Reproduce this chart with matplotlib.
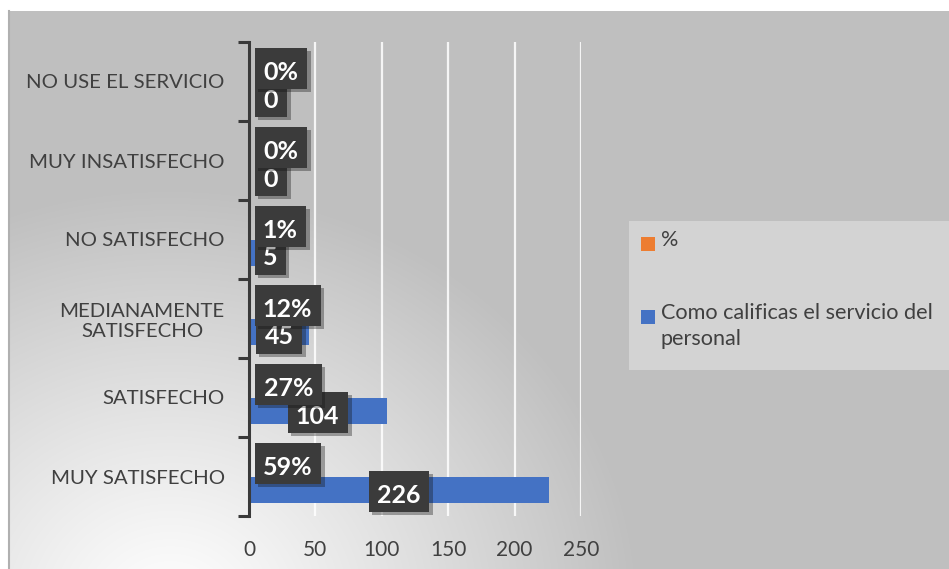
import numpy as np
import matplotlib
matplotlib.use('Agg')
import matplotlib.pyplot as plt
import matplotlib.patheffects as pe
from matplotlib.patches import Rectangle
from matplotlib.textpath import TextPath
from matplotlib.font_manager import FontProperties

categorias = ['MUY SATISFECHO', 'SATISFECHO', 'MEDIANAMENTE\nSATISFECHO',
              'NO SATISFECHO', 'MUY INSATISFECHO', 'NO USE EL SERVICIO']
cantidades = [226, 104, 45, 5, 0, 0]
porcentajes = [0.59, 0.27, 0.12, 0.01, 0.0, 0.0]
etiquetas_pct = ['59%', '27%', '12%', '1%', '0%', '0%']
xticks = [0, 50, 100, 150, 200, 250]
series = ['%', 'Como calificas el servicio del\npersonal']

AZUL = '#4472C4'
NARANJA = '#ED7D31'
TEXTO = '#404040'
plt.rcParams['font.family'] = ['Lato', 'DejaVu Sans']

W, H = 949, 569
fig = plt.figure(figsize=(W / 100, H / 100), dpi=100)

# fondo: gris con degradado radial blanco desde abajo a la izquierda
bg = fig.add_axes([0, 0, 1, 1], zorder=-5)
yy, xx = np.mgrid[0:H, 0:W]
d = np.hypot(xx - 170, (yy - 610) / 0.9)
t = np.clip(d / 470, 0, 1) ** 1.1
gris = 0.75 + (1 - 0.75) * (1 - t)
img = np.dstack([gris, gris, gris])
img[:11, :] = 1.0
img[:, :9] = 1.0
bg.imshow(img, aspect='auto', extent=(0, W, H, 0), interpolation='bilinear')
bg.plot([9.5, 9.5], [11, H], color='#b0b0b0', lw=1.5)
bg.set_xlim(0, W)
bg.set_ylim(H, 0)
bg.axis('off')

ax = fig.add_axes([249 / W, 1 - 516 / H, (581 - 249) / W, (516 - 42) / H])
ax.patch.set_alpha(0)

y = np.arange(len(categorias))
h = 0.33
ax.barh(y + h / 2, porcentajes, height=h, color=NARANJA, zorder=2)
ax.barh(y - h / 2, cantidades, height=h, color=AZUL, zorder=2)

ax.set_xlim(0, 250)
ax.set_ylim(-0.5, len(categorias) - 0.5)
ax.set_xticks(xticks)
ax.set_xticklabels([str(v) for v in xticks])
ax.set_yticks(y)
ax.set_yticklabels(categorias, multialignment='center')
ax.set_yticks(np.arange(-0.5, len(categorias)), minor=True)
ax.tick_params(axis='y', which='major', length=0, pad=17.5, labelsize=14.7, labelcolor=TEXTO)
ax.tick_params(axis='y', which='minor', length=8, width=2.2, color='#3a3a3a')
ax.tick_params(axis='x', length=0, pad=17, labelsize=15, labelcolor=TEXTO)
for s in ['top', 'right', 'bottom']:
    ax.spines[s].set_visible(False)
ax.spines['left'].set_color('#3a3a3a')
ax.spines['left'].set_linewidth(2.2)
for xv in xticks[1:]:
    ax.axvline(xv, color='white', lw=1.6, alpha=0.85, zorder=1)

# etiquetas de datos (cajas oscuras con sombra, texto blanco en negrita)
fp = FontProperties(family=['Lato', 'DejaVu Sans'], weight='bold', size=18)
px = 18 * fig.dpi / 72
sombra = [pe.SimplePatchShadow(offset=(2.5, -2.5), alpha=0.35), pe.Normal()]
inv = ax.transData.inverted()
x_min = ax.transData.transform((0, 0))[0] + 6


def etiqueta(xv, yv, dy, s, z):
    ink = TextPath((0, 0), s, size=px, prop=fp).get_extents()
    cx, cy = ax.transData.transform((xv, yv))
    cy += dy
    w = ink.width + 19
    x0 = max(cx - w / 2, x_min)
    cx = x0 + w / 2
    # caja: 41 px de alto, el texto queda algo por debajo del centro
    b0 = inv.transform((x0, cy + 2 - 20.5))
    b1 = inv.transform((x0 + w, cy + 2 + 20.5))
    r = Rectangle(b0, b1[0] - b0[0], b1[1] - b0[1], facecolor='#3b3b3b',
                  edgecolor='none', zorder=z)
    r.set_path_effects(sombra)
    ax.add_patch(r)
    ox, oy = inv.transform((cx - (ink.x0 + ink.x1) / 2, cy - (ink.y0 + ink.y1) / 2))
    ax.text(ox, oy, s, ha='left', va='baseline', color='white',
            fontproperties=fp, zorder=z + 0.1)


for i, v in enumerate(cantidades):
    etiqueta(v / 2, i, -17, str(v), 5)
for i, v in enumerate(porcentajes):
    etiqueta(v / 2, i, 11, etiquetas_pct[i], 6)

# leyenda
fig.patches.append(Rectangle((629 / W, 1 - 370 / H), (W - 629) / W, 149 / H,
                             transform=fig.transFigure, facecolor='#d3d3d3',
                             edgecolor='none', zorder=0))
for color, nombre, ytop in [(NARANJA, series[0], 237), (AZUL, series[1], 310)]:
    fig.patches.append(Rectangle((641 / W, 1 - (ytop + 14) / H), 14 / W, 14 / H,
                                 transform=fig.transFigure, facecolor=color,
                                 edgecolor='none', zorder=1))
    fig.text(661 / W, 1 - (ytop - 7) / H, nombre, ha='left', va='top',
             fontsize=15.6, color=TEXTO, linespacing=1.38)

fig.savefig('out.png', dpi=100)
